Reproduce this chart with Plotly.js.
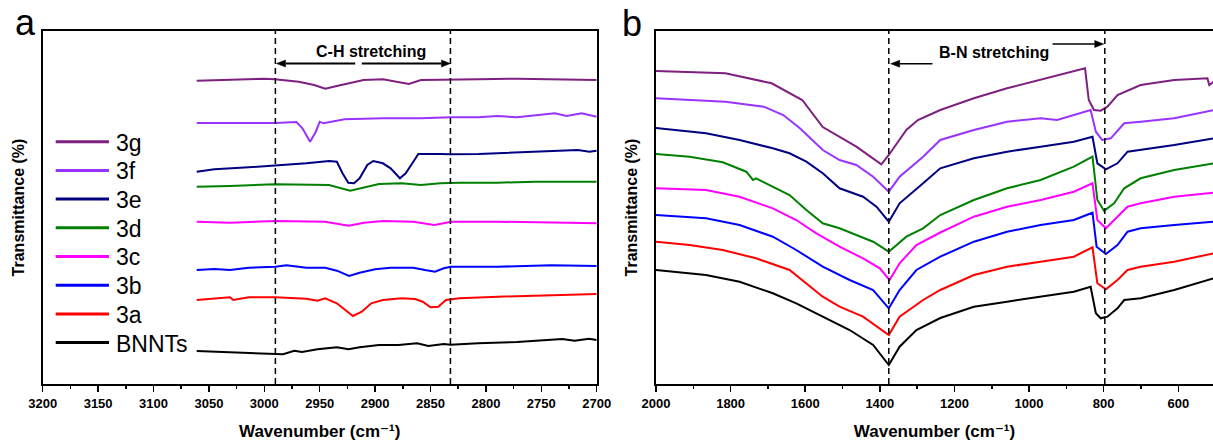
<!DOCTYPE html>
<html>
<head>
<meta charset="utf-8">
<script src="https://cdn.plot.ly/plotly-3.0.1.min.js"></script>
<style>html,body{margin:0;padding:0;background:#fff;}#chart{width:1213px;height:442px;}</style>
</head>
<body>
<div id="chart"></div>
<script>
// ---------- DATA ----------
const seriesNames = ["3g", "3f", "3e", "3d", "3c", "3b", "3a", "BNNTs"];
const seriesColors = ["#7F1F80", "#9933FF", "#000080", "#008000", "#FF00FF", "#0000FF", "#FF0000", "#000000"];

// Panel a (C-H region), transmittance in arbitrary offset units
const a_x_BNNTs = [3061,3014,2990,2983,2973,2966,2952,2934.5,2924,2914,2896.5,2879,2862,2852,2838,2832,2807,2772,2731,2720,2707,2700];
const a_y_BNNTs = [33,31.3,30.7,29.7,33.3,32,34.7,36.7,34.7,36.7,39,39,40.7,38,40,39.3,40.7,42,45,43.3,45.3,44];
const a_x_3a = [3061,3045,3031,3028,3014,2990,2962,2952,2945,2934.5,2928,2920,2912,2903.5,2893,2876,2864,2857,2850,2843,2836,2824,2789,2755,2720,2700];
const a_y_3a = [84,85.3,86.7,84,86.7,86.7,85.3,83.3,85.7,80.7,74.7,68,72.3,80.7,84,85.7,85,82.3,76.7,77.3,84,85.7,87.3,88.3,89.3,90];
const a_x_3b = [3061,3045,3031,3014,2990,2980,2962,2945,2934.5,2923.5,2914,2900,2886,2865.5,2855,2846,2838,2831.6,2789.5,2741,2700];
const a_y_3b = [114,115,114,116.3,117.3,118.7,116.3,116.3,113.3,108,111.3,114.7,116.3,116.3,114,112.3,115.7,117.3,117.3,118.7,118];
const a_x_3c = [3061,3031,2990,2945,2924,2910,2893,2865.5,2846.5,2831,2789.5,2720,2700];
const a_y_3c = [162.3,161.3,163,162.3,158.3,161.3,163,162.3,159,162.3,162.3,161.3,160.7];
const a_x_3d = [3061,3031,2990.5,2962,2941.5,2922.5,2910.4,2896.5,2876,2858.6,2841.3,2824,2789.5,2755,2700];
const a_y_3d = [197.3,198,199.7,199.7,199,193.3,196.7,200,200.7,199,200.7,201.3,201.3,202.3,202.3];
const a_x_3e = [3061,3045,3014,2990.5,2962,2941.5,2934.5,2929.4,2924.2,2919,2914,2907,2901.7,2893,2886,2877.6,2872.4,2865.5,2861,2841.3,2831.6,2806.7,2772,2755,2727,2717,2706.6,2700];
const a_y_3e = [212.3,214.7,216.7,218.3,220.7,223,222.3,210.7,201.3,200.7,205.7,219,223,220.7,215.7,205.7,210.7,222.3,230,230,229.7,230,231.3,232.3,233.3,234,232.3,233.3];
const a_x_3f = [3061,3031,2990.5,2971,2965.6,2958.7,2953.5,2950,2946.6,2927.6,2893,2858.6,2831.6,2806.7,2789.5,2772,2755,2737.7,2727.3,2713.5,2700];
const a_y_3f = [261,260.7,261,262,255.7,242.3,252.3,262.3,260.7,264.7,265.7,265.7,266.7,266.7,268,266.7,269,270.7,268,270.7,267.3];
const a_x_3g = [3061,3031,3000,2990.5,2969,2955,2945,2934.5,2910.4,2893,2879,2869.6,2858.6,2831.6,2806.7,2772,2737.7,2700];
const a_y_3g = [303.3,304,305.3,304.7,302.3,299,295.3,298,304,304.7,302.3,300,304,304,304.7,305.3,304.7,304];

// Panel b (B-N region)
const b_x_BNNTs = [2000,1866,1776,1687,1624,1553,1481,1418,1376,1347,1302,1238,1148,1059,969,880,835,821,808,790,763,745,701,611,505];
const b_y_BNNTs = [114,109,102.3,90.7,80.7,67.3,54,39,19,37.3,54,66,77.3,82.3,87.3,92.3,97.3,70.7,65.7,67.3,75.7,84,85.7,94,105.7];
const b_x_3a = [2000,1910,1821,1732,1642,1597,1553,1508,1445,1376,1347,1284,1238,1148,1059,969,880,830,817,794,763,736,701,611,505];
const b_y_3a = [142.3,139,134,125.7,114,100.7,87.3,77.3,67.3,49,67.3,84,94,109,117.3,122.3,127.3,136.7,100.7,94.7,104,114,117.3,122.3,130.7];
const b_x_3b = [2000,1866,1776,1687,1624,1553,1481,1418,1376,1347,1302,1238,1148,1059,969,880,830,819,794,763,736,701,611,505];
const b_y_3b = [169,165.7,159,147.3,134,117.3,104,94,75.7,94,114,127.3,142.3,152.3,159,164,171.3,137.3,130,139,152.3,155.7,159,162.3];
const b_x_3c = [2000,1866,1776,1687,1624,1570,1508,1445,1400,1374,1347,1302,1238,1148,1059,969,880,830,817,794,763,736,701,611,505];
const b_y_3c = [195.7,194,187.3,175.7,164,150.7,137.3,125.7,115.7,104,120.7,139,151.5,167.3,177.3,184,192.3,200.7,164,155.7,167.3,177.3,180.7,187.3,191.3];
const b_x_3d = [2000,1910,1821,1758,1740,1732,1642,1597,1553,1508,1463,1418,1376,1329,1284,1238,1148,1059,969,880,830,817,799,772,745,701,611,505];
const b_y_3d = [230,227.3,221.7,212.3,204,205.7,189,174,160.7,155.7,149,142.3,132.3,147.3,155.7,169,184,195.7,204,217.3,227.3,184,173.3,180.7,195.7,205.7,214,220.7];
const b_x_3e = [2000,1866,1776,1687,1642,1597,1553,1508,1445,1409,1376,1347,1284,1238,1148,1059,969,880,830,817,794,763,736,701,611,505];
const b_y_3e = [256,250.7,244,235.7,230.7,222.3,210.7,195.7,187.3,177.3,162.3,180.7,200.7,215.7,225.7,232.3,237.3,242.3,247.3,220.7,214.7,220.7,232.3,234,239,245.7];
const b_x_3f = [2000,1814,1711,1659,1615,1553,1508,1463,1418,1376,1347,1284,1238,1148,1059,969,925,880,835,821,804,781,745,701,611,505];
const b_y_3f = [285.7,282.3,277.3,269,256,234,224,219,207.3,192.3,207.3,227.3,244,254,262.3,265.7,264,269,274,252.3,244,245.7,260.7,262.3,265.7,274];
const b_x_3g = [2000,1814,1690,1608,1553,1463,1396,1376,1329,1298,1238,1148,1059,969,880,850,840,826,808,790,763,701,611,522,517,505];
const b_y_3g = [313,310.7,300.7,284,257,237.3,219.7,229,254,264,274,285.7,295.7,304,312.3,315.7,284,274,273.3,277.3,289,299,304,305.7,299,302.3];

// Reference marks
const chLines = [2990, 2832];   // C-H stretching bounds (panel a)
const bnLines = [1376, 797];    // B-N stretching bands (panel b)
const chLabel = "C-H stretching";
const bnLabel = "B-N stretching";
const xTitle = "Wavenumber (cm\u207B\u00B9)";
const yTitle = "Transmittance (%)";

// ---------- BUILD ----------
const W = 1213, H = 442;
const px = v => v / W;
const py = v => (H - v) / H;
const FONT = "Liberation Sans, Arial, DejaVu Sans, sans-serif";

const panelA = {x: {"BNNTs": a_x_BNNTs, "3a": a_x_3a, "3b": a_x_3b, "3c": a_x_3c, "3d": a_x_3d, "3e": a_x_3e, "3f": a_x_3f, "3g": a_x_3g},
                y: {"BNNTs": a_y_BNNTs, "3a": a_y_3a, "3b": a_y_3b, "3c": a_y_3c, "3d": a_y_3d, "3e": a_y_3e, "3f": a_y_3f, "3g": a_y_3g}};
const panelB = {x: {"BNNTs": b_x_BNNTs, "3a": b_x_3a, "3b": b_x_3b, "3c": b_x_3c, "3d": b_x_3d, "3e": b_x_3e, "3f": b_x_3f, "3g": b_x_3g},
                y: {"BNNTs": b_y_BNNTs, "3a": b_y_3a, "3b": b_y_3b, "3c": b_y_3c, "3d": b_y_3d, "3e": b_y_3e, "3f": b_y_3f, "3g": b_y_3g}};

const traces = [];
const order = seriesNames.slice().reverse();
order.forEach(name => {
  const c = seriesColors[seriesNames.indexOf(name)];
  traces.push({x: panelA.x[name], y: panelA.y[name], xaxis: 'x', yaxis: 'y', type: 'scatter', mode: 'lines',
               name: name, showlegend: false, line: {color: c, width: 2}, hoverinfo: 'skip'});
  traces.push({x: panelB.x[name], y: panelB.y[name], xaxis: 'x2', yaxis: 'y2', type: 'scatter', mode: 'lines',
               name: name, showlegend: false, line: {color: c, width: 2}, hoverinfo: 'skip'});
});

const domA = [px(42.7), px(596.7)], rangeA = [3200, 2700];
const domB = [px(656), 1], rangeB = [2000, 507];
const yDom = [py(384), py(31)], yRange = [0, 353];
// units per pixel for each axis (used to size arrowheads)
const uA = Math.abs(rangeA[1] - rangeA[0]) / ((domA[1] - domA[0]) * W);
const uB = Math.abs(rangeB[1] - rangeB[0]) / ((domB[1] - domB[0]) * W);
const uY = (yRange[1] - yRange[0]) / ((yDom[1] - yDom[0]) * H);

const tickFont = {family: FONT, size: 13, color: '#000', weight: 'bold'};
const xTitleObj = {text: xTitle, font: {family: FONT, size: 17, color: '#000', weight: 'bold'}, standoff: 16};
const yTitleObj = {text: yTitle, font: {family: FONT, size: 16, color: '#000', weight: 'bold'}, standoff: 12};
const baseX = {showline: true, linecolor: '#000', linewidth: 2, mirror: true, showgrid: false, zeroline: false,
               ticks: 'outside', ticklen: 6, tickwidth: 1.5, tickcolor: '#000', tickfont: tickFont, title: xTitleObj,
               minor: {ticks: 'outside', ticklen: 3, tickwidth: 1.5, tickcolor: '#000', showgrid: false}};
const baseY = {showline: true, linecolor: '#000', linewidth: 2, showgrid: false, zeroline: false, ticks: '',
               showticklabels: false, range: yRange, domain: yDom, title: yTitleObj};

const shapes = [];
chLines.forEach(v => shapes.push({type: 'line', xref: 'x', yref: 'y domain', x0: v, x1: v, y0: 0, y1: 1,
                                  line: {color: '#000', width: 1.5, dash: '6px,4px'}}));
bnLines.forEach(v => shapes.push({type: 'line', xref: 'x2', yref: 'y2 domain', x0: v, x1: v, y0: 0, y1: 1,
                                  line: {color: '#000', width: 1.5, dash: '6px,4px'}}));

// arrow helper: shaft from tail to tip, filled triangular head at tip (horizontal arrows)
function arrow(xr, yr, unitX, tail, tip, y, width) {
  const dir = Math.sign(tip - tail);
  const hl = 9 * unitX, hw = 3.5 * uY;
  const base = tip - dir * hl;
  shapes.push({type: 'line', xref: xr, yref: yr, x0: tail, x1: base, y0: y, y1: y,
               line: {color: '#000', width: width}});
  shapes.push({type: 'path', xref: xr, yref: yr, fillcolor: '#000', line: {color: '#000', width: 0.5},
               path: `M ${tip},${y} L ${base},${y + hw} L ${base},${y - hw} Z`});
}
arrow('x', 'y', uA, 2918, 2989, 320.5, 2);
arrow('x', 'y', uA, 2912, 2832, 320.5, 2);
arrow('x2', 'y2', uB, 1259, 1371, 320.3, 1.5);
arrow('x2', 'y2', uB, 937, 800, 340, 1.5);

const annotations = [];
// legend (manual, built from series arrays)
seriesNames.forEach((name, i) => {
  const yc = 141.7 + i * 28.7;
  shapes.push({type: 'line', xref: 'paper', yref: 'paper', x0: px(55.7), x1: px(109), y0: py(yc), y1: py(yc),
               line: {color: seriesColors[i], width: 3}});
  annotations.push({xref: 'paper', yref: 'paper', x: px(114), y: py(yc + 1), xanchor: 'left', yanchor: 'middle',
                    text: name, showarrow: false, font: {family: FONT, size: 23, color: '#000'}});
});

// panel labels
annotations.push({xref: 'paper', yref: 'paper', x: px(13), y: py(22), xanchor: 'left', yanchor: 'middle',
                  text: 'a', showarrow: false, font: {family: FONT, size: 36, color: '#000'}});
annotations.push({xref: 'paper', yref: 'paper', x: px(620), y: py(23), xanchor: 'left', yanchor: 'middle',
                  text: 'b', showarrow: false, font: {family: FONT, size: 36, color: '#000'}});

// stretching labels
const lblFont = {family: FONT, size: 16, color: '#000', weight: 'bold'};
annotations.push({xref: 'x', yref: 'y', x: 2904, y: 332.5, text: chLabel, showarrow: false, font: lblFont});
annotations.push({xref: 'x2', yref: 'y2', x: 1095, y: 331, text: bnLabel, showarrow: false, font: lblFont});

const layout = {
  width: W, height: H, margin: {l: 0, r: 0, t: 0, b: 0}, paper_bgcolor: '#fff', plot_bgcolor: '#fff',
  showlegend: false,
  xaxis: Object.assign({}, baseX, {domain: domA, range: rangeA, anchor: 'y',
                                   tick0: 2700, dtick: 50, minor: Object.assign({}, baseX.minor, {dtick: 25, tick0: 2700})}),
  yaxis: Object.assign({}, baseY, {anchor: 'x', mirror: true}),
  xaxis2: Object.assign({}, baseX, {domain: domB, range: rangeB, anchor: 'y2',
                                    tick0: 0, dtick: 200, minor: Object.assign({}, baseX.minor, {dtick: 100, tick0: 0})}),
  yaxis2: Object.assign({}, baseY, {anchor: 'x2', mirror: false}),
  shapes: shapes, annotations: annotations
};

Plotly.newPlot('chart', traces, layout, {staticPlot: true, displayModeBar: false});
</script>
</body>
</html>
